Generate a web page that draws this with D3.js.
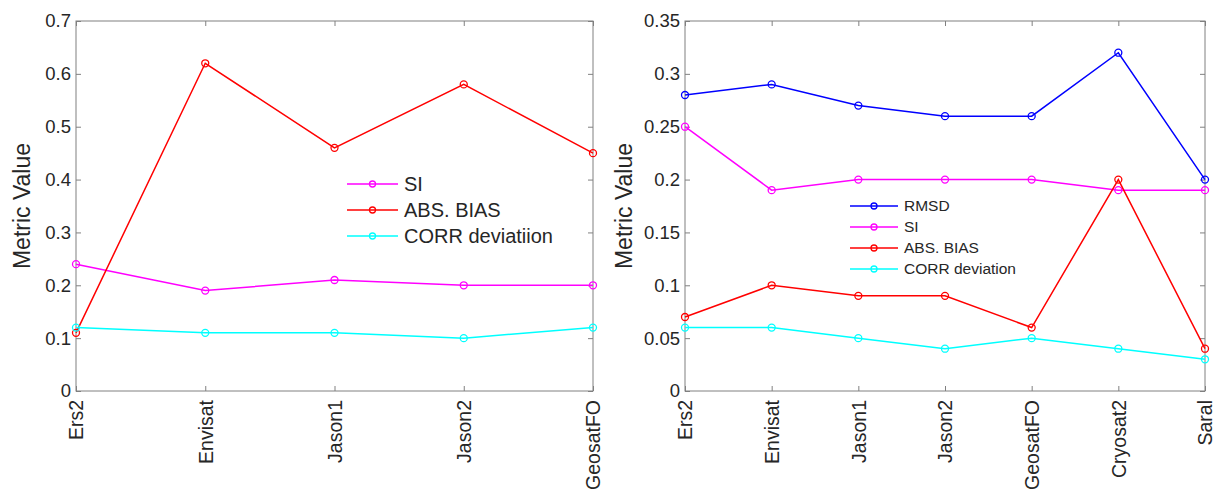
<!DOCTYPE html>
<html>
<head>
<meta charset="utf-8">
<script src="https://cdn.jsdelivr.net/npm/d3@7"></script>
<style>
  body { margin: 0; background: #fff; }
  svg text { font-family: Arial, "Liberation Sans", sans-serif; fill: #262626; }
</style>
</head>
<body>
<script>
// data
const leftSats = ["Ers2", "Envisat", "Jason1", "Jason2", "GeosatFO"];
const leftSI = [0.24, 0.19, 0.21, 0.20, 0.20];
const leftBias = [0.11, 0.62, 0.46, 0.58, 0.45];
const leftCorr = [0.12, 0.11, 0.11, 0.10, 0.12];
const leftTicks = [0, 0.1, 0.2, 0.3, 0.4, 0.5, 0.6, 0.7];

const rightSats = ["Ers2", "Envisat", "Jason1", "Jason2", "GeosatFO", "Cryosat2", "Saral"];
const rightRMSD = [0.28, 0.29, 0.27, 0.26, 0.26, 0.32, 0.20];
const rightSI = [0.25, 0.19, 0.20, 0.20, 0.20, 0.19, 0.19];
const rightBias = [0.07, 0.10, 0.09, 0.09, 0.06, 0.20, 0.04];
const rightCorr = [0.06, 0.06, 0.05, 0.04, 0.05, 0.04, 0.03];
const rightTicks = [0, 0.05, 0.1, 0.15, 0.2, 0.25, 0.3, 0.35];

const svg = d3.select("body").append("svg")
  .attr("width", 1225).attr("height", 493);

drawPanel({
  left: 76, right: 593, top: 21, bottom: 391,
  cats: leftSats, ymax: 0.7, ticks: leftTicks, fmt: d => d === 0 ? "0" : d3.format(".1f")(d),
  labelX: 22,
  series: [
    {name: "SI", values: leftSI, color: "#ff00ff"},
    {name: "ABS. BIAS", values: leftBias, color: "#ff0000"},
    {name: "CORR deviatiion", values: leftCorr, color: "#00ffff"}
  ],
  legend: {x1: 347, x2: 398, tx: 404, y0: 184, dy: 26, size: 20}
});

drawPanel({
  left: 685, right: 1205, top: 21, bottom: 391,
  cats: rightSats, ymax: 0.35, ticks: rightTicks, fmt: d => d === 0 ? "0" : String(+d.toFixed(2)),
  labelX: 624,
  series: [
    {name: "RMSD", values: rightRMSD, color: "#0000ff"},
    {name: "SI", values: rightSI, color: "#ff00ff"},
    {name: "ABS. BIAS", values: rightBias, color: "#ff0000"},
    {name: "CORR deviation", values: rightCorr, color: "#00ffff"}
  ],
  legend: {x1: 850, x2: 898, tx: 904, y0: 206, dy: 21, size: 15.5}
});

function drawPanel(p) {
  const g = svg.append("g");
  const x = d3.scalePoint().domain(p.cats).range([p.left, p.right]);
  const y = d3.scaleLinear().domain([0, p.ymax]).range([p.bottom, p.top]);

  // box
  g.append("rect")
    .attr("x", p.left).attr("y", p.top)
    .attr("width", p.right - p.left).attr("height", p.bottom - p.top)
    .attr("fill", "none").attr("stroke", "#808080").attr("stroke-width", 1);

  // y axis left, ticks inward
  const yAxis = g.append("g").attr("transform", `translate(${p.left},0)`)
    .call(d3.axisLeft(y).tickValues(p.ticks).tickFormat(p.fmt).tickSizeInner(-5).tickSizeOuter(0).tickPadding(5));
  yAxis.select(".domain").remove();
  yAxis.selectAll("line").attr("stroke", "#808080");
  yAxis.selectAll("text").style("font-size", "18.5px").attr("fill", "#262626");

  const yAxisR = g.append("g").attr("transform", `translate(${p.right},0)`)
    .call(d3.axisRight(y).tickValues(p.ticks).tickFormat("").tickSizeInner(-5).tickSizeOuter(0));
  yAxisR.select(".domain").remove();
  yAxisR.selectAll("line").attr("stroke", "#808080");

  // x axis bottom, rotated labels
  const xAxis = g.append("g").attr("transform", `translate(0,${p.bottom})`)
    .call(d3.axisBottom(x).tickSizeInner(-5).tickSizeOuter(0));
  xAxis.select(".domain").remove();
  xAxis.selectAll("line").attr("stroke", "#808080");
  xAxis.selectAll("text")
    .style("font-size", "19.5px").attr("fill", "#262626")
    .attr("transform", "rotate(-90)")
    .attr("x", -9).attr("y", 0).attr("dy", "0.35em")
    .attr("text-anchor", "end");

  const xAxisT = g.append("g").attr("transform", `translate(0,${p.top})`)
    .call(d3.axisTop(x).tickFormat("").tickSizeInner(-5).tickSizeOuter(0));
  xAxisT.select(".domain").remove();
  xAxisT.selectAll("line").attr("stroke", "#808080");

  // y label
  g.append("text")
    .attr("transform", `translate(${p.labelX},${(p.top + p.bottom) / 2}) rotate(-90)`)
    .attr("text-anchor", "middle").attr("dy", "0.35em")
    .style("font-size", "23px")
    .text("Metric Value");

  const line = d3.line().x((d, i) => x(p.cats[i])).y(d => y(d));

  p.series.forEach(s => {
    g.append("path").datum(s.values)
      .attr("d", line).attr("fill", "none")
      .attr("stroke", s.color).attr("stroke-width", 1.5);
    g.selectAll(null).data(s.values).enter().append("circle")
      .attr("cx", (d, i) => x(p.cats[i])).attr("cy", d => y(d))
      .attr("r", 3.5).attr("fill", "none")
      .attr("stroke", s.color).attr("stroke-width", 1.3);
  });

  // legend
  const lg = g.append("g");
  p.series.forEach((s, i) => {
    const yy = p.legend.y0 + i * p.legend.dy;
    lg.append("line")
      .attr("x1", p.legend.x1).attr("x2", p.legend.x2)
      .attr("y1", yy).attr("y2", yy)
      .attr("stroke", s.color).attr("stroke-width", 1.5);
    lg.append("circle")
      .attr("cx", (p.legend.x1 + p.legend.x2) / 2).attr("cy", yy)
      .attr("r", 3).attr("fill", "none")
      .attr("stroke", s.color).attr("stroke-width", 1.3);
    lg.append("text")
      .attr("x", p.legend.tx).attr("y", yy).attr("dy", "0.35em")
      .style("font-size", p.legend.size + "px")
      .text(s.name);
  });
}
</script>
</body>
</html>
